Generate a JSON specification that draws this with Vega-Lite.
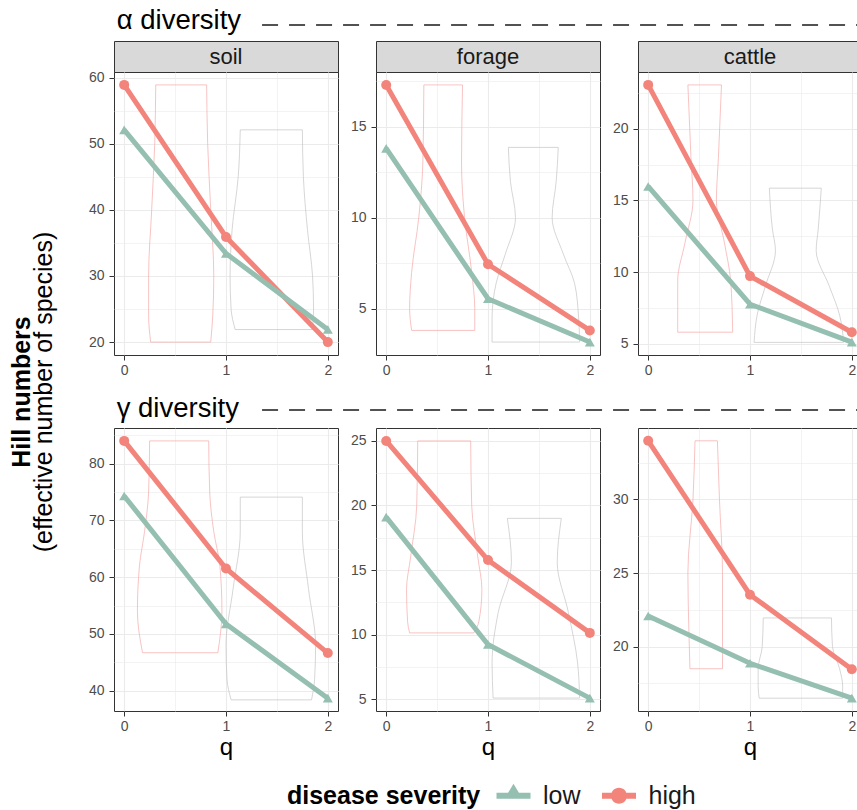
{
  "$schema": "https://vega.github.io/schema/vega-lite/v6.json",
  "padding": 0,
  "config": {
    "font": "Liberation Sans",
    "view": {"stroke": "#333333", "strokeWidth": 1},
    "axis": {"labelFontSize": 14, "labelColor": "#4d4d4d", "labelFont": "Liberation Sans", "tickColor": "#333333", "tickSize": 5, "tickWidth": 1, "domain": false, "gridColor": "#ebebeb", "gridWidth": 1.1, "titleFontSize": 24, "titleFontWeight": "normal", "titleColor": "#000000", "titleFont": "Liberation Sans"},
    "axisX": {"labelPadding": 3, "titlePadding": 2},
    "axisY": {"labelPadding": 5},
    "legend": {"title": "disease severity", "orient": "none", "legendX": 287, "legendY": 783, "direction": "horizontal", "titleOrient": "left", "titleFontSize": 25, "titleFontWeight": "bold", "titleColor": "#000000", "titlePadding": 20, "titleLimit": 400, "labelFontSize": 25, "labelColor": "#1a1a1a", "labelOffset": 17, "columnPadding": 20.5, "symbolSize": 400, "symbolStrokeWidth": 0},
    "text": {"font": "Liberation Sans"}
  },
  "datasets": {
    "pts": [
      {"div": "alpha", "src": "soil", "sev": "high", "q": 0, "val": 58.9},
      {"div": "alpha", "src": "soil", "sev": "high", "q": 1, "val": 35.9},
      {"div": "alpha", "src": "soil", "sev": "high", "q": 2, "val": 20.0},
      {"div": "alpha", "src": "soil", "sev": "low", "q": 0, "val": 52.1},
      {"div": "alpha", "src": "soil", "sev": "low", "q": 1, "val": 33.4},
      {"div": "alpha", "src": "soil", "sev": "low", "q": 2, "val": 21.9},
      {"div": "alpha", "src": "forage", "sev": "high", "q": 0, "val": 17.29},
      {"div": "alpha", "src": "forage", "sev": "high", "q": 1, "val": 7.44},
      {"div": "alpha", "src": "forage", "sev": "high", "q": 2, "val": 3.81},
      {"div": "alpha", "src": "forage", "sev": "low", "q": 0, "val": 13.81},
      {"div": "alpha", "src": "forage", "sev": "low", "q": 1, "val": 5.55},
      {"div": "alpha", "src": "forage", "sev": "low", "q": 2, "val": 3.17},
      {"div": "alpha", "src": "cattle", "sev": "high", "q": 0, "val": 23.05},
      {"div": "alpha", "src": "cattle", "sev": "high", "q": 1, "val": 9.72},
      {"div": "alpha", "src": "cattle", "sev": "high", "q": 2, "val": 5.81},
      {"div": "alpha", "src": "cattle", "sev": "low", "q": 0, "val": 15.97},
      {"div": "alpha", "src": "cattle", "sev": "low", "q": 1, "val": 7.76},
      {"div": "alpha", "src": "cattle", "sev": "low", "q": 2, "val": 5.12},
      {"div": "gamma", "src": "soil", "sev": "high", "q": 0, "val": 84.0},
      {"div": "gamma", "src": "soil", "sev": "high", "q": 1, "val": 61.54},
      {"div": "gamma", "src": "soil", "sev": "high", "q": 2, "val": 46.64},
      {"div": "gamma", "src": "soil", "sev": "low", "q": 0, "val": 74.3},
      {"div": "gamma", "src": "soil", "sev": "low", "q": 1, "val": 51.77},
      {"div": "gamma", "src": "soil", "sev": "low", "q": 2, "val": 38.7},
      {"div": "gamma", "src": "forage", "sev": "high", "q": 0, "val": 25.0},
      {"div": "gamma", "src": "forage", "sev": "high", "q": 1, "val": 15.77},
      {"div": "gamma", "src": "forage", "sev": "high", "q": 2, "val": 10.13},
      {"div": "gamma", "src": "forage", "sev": "low", "q": 0, "val": 19.1},
      {"div": "gamma", "src": "forage", "sev": "low", "q": 1, "val": 9.23},
      {"div": "gamma", "src": "forage", "sev": "low", "q": 2, "val": 5.08},
      {"div": "gamma", "src": "cattle", "sev": "high", "q": 0, "val": 33.98},
      {"div": "gamma", "src": "cattle", "sev": "high", "q": 1, "val": 23.53},
      {"div": "gamma", "src": "cattle", "sev": "high", "q": 2, "val": 18.47},
      {"div": "gamma", "src": "cattle", "sev": "low", "q": 0, "val": 22.08},
      {"div": "gamma", "src": "cattle", "sev": "low", "q": 1, "val": 18.87},
      {"div": "gamma", "src": "cattle", "sev": "low", "q": 2, "val": 16.5}
    ],
    "vio": [
      {"div": "alpha", "src": "soil", "sev": "high", "y": 20.0, "xlo": 0.26, "xhi": 0.85},
      {"div": "alpha", "src": "soil", "sev": "high", "y": 24, "xlo": 0.24, "xhi": 0.87},
      {"div": "alpha", "src": "soil", "sev": "high", "y": 30, "xlo": 0.24, "xhi": 0.88},
      {"div": "alpha", "src": "soil", "sev": "high", "y": 40, "xlo": 0.27, "xhi": 0.85},
      {"div": "alpha", "src": "soil", "sev": "high", "y": 50, "xlo": 0.30, "xhi": 0.82},
      {"div": "alpha", "src": "soil", "sev": "high", "y": 58.9, "xlo": 0.31, "xhi": 0.81},
      {"div": "alpha", "src": "soil", "sev": "low", "y": 21.9, "xlo": 1.09, "xhi": 1.85},
      {"div": "alpha", "src": "soil", "sev": "low", "y": 25, "xlo": 1.05, "xhi": 1.86},
      {"div": "alpha", "src": "soil", "sev": "low", "y": 30, "xlo": 1.04, "xhi": 1.85},
      {"div": "alpha", "src": "soil", "sev": "low", "y": 37, "xlo": 1.06, "xhi": 1.80},
      {"div": "alpha", "src": "soil", "sev": "low", "y": 45, "xlo": 1.12, "xhi": 1.76},
      {"div": "alpha", "src": "soil", "sev": "low", "y": 52.1, "xlo": 1.14, "xhi": 1.75},
      {"div": "alpha", "src": "forage", "sev": "high", "y": 3.81, "xlo": 0.25, "xhi": 0.87},
      {"div": "alpha", "src": "forage", "sev": "high", "y": 5, "xlo": 0.23, "xhi": 0.87},
      {"div": "alpha", "src": "forage", "sev": "high", "y": 7, "xlo": 0.25, "xhi": 0.84},
      {"div": "alpha", "src": "forage", "sev": "high", "y": 10, "xlo": 0.32, "xhi": 0.77},
      {"div": "alpha", "src": "forage", "sev": "high", "y": 13, "xlo": 0.36, "xhi": 0.74},
      {"div": "alpha", "src": "forage", "sev": "high", "y": 17.29, "xlo": 0.37, "xhi": 0.75},
      {"div": "alpha", "src": "forage", "sev": "low", "y": 3.17, "xlo": 1.04, "xhi": 1.90},
      {"div": "alpha", "src": "forage", "sev": "low", "y": 4.5, "xlo": 1.04, "xhi": 1.89},
      {"div": "alpha", "src": "forage", "sev": "low", "y": 6.4, "xlo": 1.08, "xhi": 1.85},
      {"div": "alpha", "src": "forage", "sev": "low", "y": 8, "xlo": 1.17, "xhi": 1.74},
      {"div": "alpha", "src": "forage", "sev": "low", "y": 10, "xlo": 1.27, "xhi": 1.63},
      {"div": "alpha", "src": "forage", "sev": "low", "y": 12, "xlo": 1.22, "xhi": 1.67},
      {"div": "alpha", "src": "forage", "sev": "low", "y": 13.86, "xlo": 1.20, "xhi": 1.69},
      {"div": "alpha", "src": "cattle", "sev": "high", "y": 5.81, "xlo": 0.29, "xhi": 0.83},
      {"div": "alpha", "src": "cattle", "sev": "high", "y": 9.4, "xlo": 0.29, "xhi": 0.81},
      {"div": "alpha", "src": "cattle", "sev": "high", "y": 12, "xlo": 0.36, "xhi": 0.75},
      {"div": "alpha", "src": "cattle", "sev": "high", "y": 15, "xlo": 0.44, "xhi": 0.67},
      {"div": "alpha", "src": "cattle", "sev": "high", "y": 18, "xlo": 0.42, "xhi": 0.69},
      {"div": "alpha", "src": "cattle", "sev": "high", "y": 23.05, "xlo": 0.39, "xhi": 0.72},
      {"div": "alpha", "src": "cattle", "sev": "low", "y": 5.1, "xlo": 1.04, "xhi": 1.92},
      {"div": "alpha", "src": "cattle", "sev": "low", "y": 7, "xlo": 1.07, "xhi": 1.88},
      {"div": "alpha", "src": "cattle", "sev": "low", "y": 9, "xlo": 1.15, "xhi": 1.78},
      {"div": "alpha", "src": "cattle", "sev": "low", "y": 11.5, "xlo": 1.25, "xhi": 1.65},
      {"div": "alpha", "src": "cattle", "sev": "low", "y": 13, "xlo": 1.22, "xhi": 1.67},
      {"div": "alpha", "src": "cattle", "sev": "low", "y": 15.85, "xlo": 1.19, "xhi": 1.70},
      {"div": "gamma", "src": "soil", "sev": "high", "y": 46.7, "xlo": 0.18, "xhi": 0.92},
      {"div": "gamma", "src": "soil", "sev": "high", "y": 54, "xlo": 0.13, "xhi": 0.96},
      {"div": "gamma", "src": "soil", "sev": "high", "y": 62, "xlo": 0.15, "xhi": 0.94},
      {"div": "gamma", "src": "soil", "sev": "high", "y": 68, "xlo": 0.20, "xhi": 0.88},
      {"div": "gamma", "src": "soil", "sev": "high", "y": 75, "xlo": 0.24, "xhi": 0.84},
      {"div": "gamma", "src": "soil", "sev": "high", "y": 84.0, "xlo": 0.25, "xhi": 0.83},
      {"div": "gamma", "src": "soil", "sev": "low", "y": 38.4, "xlo": 1.05, "xhi": 1.84},
      {"div": "gamma", "src": "soil", "sev": "low", "y": 42, "xlo": 1.01, "xhi": 1.87},
      {"div": "gamma", "src": "soil", "sev": "low", "y": 48, "xlo": 1.00, "xhi": 1.88},
      {"div": "gamma", "src": "soil", "sev": "low", "y": 58, "xlo": 1.07, "xhi": 1.81},
      {"div": "gamma", "src": "soil", "sev": "low", "y": 68, "xlo": 1.14, "xhi": 1.75},
      {"div": "gamma", "src": "soil", "sev": "low", "y": 74.1, "xlo": 1.14, "xhi": 1.75},
      {"div": "gamma", "src": "forage", "sev": "high", "y": 10.13, "xlo": 0.23, "xhi": 0.86},
      {"div": "gamma", "src": "forage", "sev": "high", "y": 11, "xlo": 0.21, "xhi": 0.91},
      {"div": "gamma", "src": "forage", "sev": "high", "y": 13.5, "xlo": 0.20, "xhi": 0.94},
      {"div": "gamma", "src": "forage", "sev": "high", "y": 16, "xlo": 0.24, "xhi": 0.90},
      {"div": "gamma", "src": "forage", "sev": "high", "y": 20, "xlo": 0.30, "xhi": 0.84},
      {"div": "gamma", "src": "forage", "sev": "high", "y": 25.0, "xlo": 0.31, "xhi": 0.83},
      {"div": "gamma", "src": "forage", "sev": "low", "y": 5.08, "xlo": 1.05, "xhi": 1.90},
      {"div": "gamma", "src": "forage", "sev": "low", "y": 7.8, "xlo": 1.04, "xhi": 1.88},
      {"div": "gamma", "src": "forage", "sev": "low", "y": 11.7, "xlo": 1.10, "xhi": 1.79},
      {"div": "gamma", "src": "forage", "sev": "low", "y": 15.6, "xlo": 1.23, "xhi": 1.68},
      {"div": "gamma", "src": "forage", "sev": "low", "y": 19.0, "xlo": 1.19, "xhi": 1.72},
      {"div": "gamma", "src": "cattle", "sev": "high", "y": 18.5, "xlo": 0.41, "xhi": 0.73},
      {"div": "gamma", "src": "cattle", "sev": "high", "y": 21, "xlo": 0.40, "xhi": 0.73},
      {"div": "gamma", "src": "cattle", "sev": "high", "y": 25, "xlo": 0.39, "xhi": 0.73},
      {"div": "gamma", "src": "cattle", "sev": "high", "y": 30, "xlo": 0.44, "xhi": 0.70},
      {"div": "gamma", "src": "cattle", "sev": "high", "y": 33.98, "xlo": 0.46, "xhi": 0.68},
      {"div": "gamma", "src": "cattle", "sev": "low", "y": 16.5, "xlo": 1.09, "xhi": 1.91},
      {"div": "gamma", "src": "cattle", "sev": "low", "y": 17.3, "xlo": 1.08, "xhi": 1.91},
      {"div": "gamma", "src": "cattle", "sev": "low", "y": 18.5, "xlo": 1.08, "xhi": 1.88},
      {"div": "gamma", "src": "cattle", "sev": "low", "y": 20, "xlo": 1.12, "xhi": 1.81},
      {"div": "gamma", "src": "cattle", "sev": "low", "y": 21.95, "xlo": 1.13, "xhi": 1.80}
    ]
  },
  "columns": 4,
  "align": "each",
  "bounds": "flush",
  "spacing": {"row": 0, "column": 38},
  "concat": [
    {"width": 76, "height": 41, "view": {"stroke": null}, "data": {"values": []}, "mark": "point"},
    {"width": 224, "height": 41, "view": {"stroke": null},
     "layer": [
       {"data": {"values": [{"div": "α diversity"}]},
        "mark": {"type": "text", "align": "left", "baseline": "alphabetic", "fontSize": 27.5, "color": "#000000"},
        "encoding": {"text": {"field": "div"},
          "x": {"datum": 0.012, "type": "quantitative", "scale": {"domain": [0, 1]}, "axis": null},
          "y": {"datum": 0.2805, "type": "quantitative", "scale": {"domain": [0, 1]}, "axis": null}}},
       {"data": {"values": [{"line": "dashed"}]},
        "mark": {"type": "rule", "strokeDash": [16, 11], "color": "#1a1a1a", "strokeWidth": 1.3, "clip": false},
        "encoding": {
          "x": {"datum": 0.661, "type": "quantitative", "scale": {"domain": [0, 1]}, "axis": null},
          "x2": {"datum": 3.34},
          "y": {"datum": 0.39, "type": "quantitative", "scale": {"domain": [0, 1]}, "axis": null}}}
     ]},
    {"width": 224, "height": 41, "view": {"stroke": null}, "data": {"values": []}, "mark": "point"},
    {"width": 224, "height": 41, "view": {"stroke": null}, "data": {"values": []}, "mark": "point"},

    {"width": 76, "height": 31, "view": {"stroke": null}, "data": {"values": []}, "mark": "point"},
    {"width": 224, "height": 31, "view": {"fill": "#d9d9d9", "stroke": "#333333"},
     "data": {"values": [{"src": "soil"}]},
     "mark": {"type": "text", "fontSize": 22, "color": "#1a1a1a"},
     "encoding": {"text": {"field": "src"}}},
    {"width": 224, "height": 31, "view": {"fill": "#d9d9d9", "stroke": "#333333"},
     "data": {"values": [{"src": "forage"}]},
     "mark": {"type": "text", "fontSize": 22, "color": "#1a1a1a"},
     "encoding": {"text": {"field": "src"}}},
    {"width": 224, "height": 31, "view": {"fill": "#d9d9d9", "stroke": "#333333"},
     "data": {"values": [{"src": "cattle"}]},
     "mark": {"type": "text", "fontSize": 22, "color": "#1a1a1a"},
     "encoding": {"text": {"field": "src"}}},

    {"width": 76, "height": 283, "view": {"stroke": null}, "data": {"values": []}, "mark": "point"},
    {"width": 224, "height": 283,
     "resolve": {"axis": {"x": "independent", "y": "independent"}},
     "layer": [
       {"data": {"name": "vio"}, "transform": [{"filter": "datum.div === 'alpha' && datum.src === 'soil'"}],
        "mark": {"type": "area", "orient": "horizontal", "interpolate": "monotone", "fillOpacity": 0, "strokeWidth": 0.7},
        "encoding": {
          "y": {"field": "y", "type": "quantitative", "scale": {"domain": [18.05, 60.85], "nice": false, "zero": false}, "axis": {"orient": "left", "values": [25, 35, 45, 55], "grid": true, "gridWidth": 0.6, "labels": false, "ticks": false, "domain": false, "title": null}},
          "x": {"field": "xlo", "type": "quantitative", "scale": {"domain": [-0.1, 2.1], "nice": false, "zero": false}, "axis": {"orient": "bottom", "values": [0.5, 1.5], "grid": true, "gridWidth": 0.6, "labels": false, "ticks": false, "domain": false, "title": null}},
          "x2": {"field": "xhi"},
          "detail": {"field": "sev"},
          "stroke": {"condition": {"test": "datum.sev === 'high'", "value": "#F5A9A9"}, "value": "#C4C4C4"}}},
       {"data": {"name": "pts"}, "transform": [{"filter": "datum.div === 'alpha' && datum.src === 'soil'"}],
        "mark": {"type": "line", "strokeWidth": 5},
        "encoding": {
          "x": {"field": "q", "type": "quantitative", "scale": {"domain": [-0.1, 2.1], "nice": false, "zero": false}, "axis": {"orient": "bottom", "values": [0, 1, 2], "grid": true, "title": null}},
          "y": {"field": "val", "type": "quantitative", "scale": {"domain": [18.05, 60.85], "nice": false, "zero": false}, "axis": {"orient": "left", "values": [20, 30, 40, 50, 60], "grid": true, "title": null}},
          "color": {"field": "sev", "type": "nominal", "scale": {"domain": ["low", "high"], "range": ["#95BFB1", "#F3847B"]}, "title": "disease severity"}}},
       {"data": {"name": "pts"}, "transform": [{"filter": "datum.div === 'alpha' && datum.src === 'soil'"}],
        "mark": {"type": "point", "filled": true, "opacity": 1, "size": 100},
        "encoding": {
          "x": {"field": "q", "type": "quantitative", "scale": {"domain": [-0.1, 2.1], "nice": false, "zero": false}, "axis": null},
          "y": {"field": "val", "type": "quantitative", "scale": {"domain": [18.05, 60.85], "nice": false, "zero": false}, "axis": null},
          "color": {"field": "sev", "type": "nominal", "scale": {"domain": ["low", "high"], "range": ["#95BFB1", "#F3847B"]}, "title": "disease severity"},
          "shape": {"condition": {"test": "datum.sev === 'low'", "value": "triangle-up"}, "value": "circle"}}},
       {"data": {"name": "pts"}, "transform": [{"filter": "datum.q < 0"}],
        "mark": {"type": "point", "filled": true, "opacity": 1, "size": 100},
        "encoding": {
          "x": {"field": "q", "type": "quantitative", "scale": {"domain": [-0.1, 2.1], "nice": false, "zero": false}, "axis": null},
          "y": {"field": "val", "type": "quantitative", "scale": {"domain": [18.05, 60.85], "nice": false, "zero": false}, "axis": null},
          "color": {"field": "sev", "type": "nominal", "scale": {"domain": ["low", "high"], "range": ["#95BFB1", "#F3847B"]}, "title": "disease severity"},
          "shape": {"field": "sev", "type": "nominal", "title": "disease severity", "scale": {"domain": ["low", "high"], "range": ["M-1.7,-0.3H1.7V0.3H-1.7Z M0,-1.2L0.9,0.3L-0.9,0.3Z", "M-1.7,-0.3H1.7V0.3H-1.7Z M-0.8,0A0.8,0.8 0 1,1 0.8,0A0.8,0.8 0 1,1 -0.8,0Z"]}}}}
     ]},
    {"width": 224, "height": 283,
     "resolve": {"axis": {"x": "independent", "y": "independent"}},
     "layer": [
       {"data": {"name": "vio"}, "transform": [{"filter": "datum.div === 'alpha' && datum.src === 'forage'"}],
        "mark": {"type": "area", "orient": "horizontal", "interpolate": "monotone", "fillOpacity": 0, "strokeWidth": 0.7},
        "encoding": {
          "y": {"field": "y", "type": "quantitative", "scale": {"domain": [2.46, 18.0], "nice": false, "zero": false}, "axis": {"orient": "left", "values": [7.5, 12.5, 17.5], "grid": true, "gridWidth": 0.6, "labels": false, "ticks": false, "domain": false, "title": null}},
          "x": {"field": "xlo", "type": "quantitative", "scale": {"domain": [-0.1, 2.1], "nice": false, "zero": false}, "axis": {"orient": "bottom", "values": [0.5, 1.5], "grid": true, "gridWidth": 0.6, "labels": false, "ticks": false, "domain": false, "title": null}},
          "x2": {"field": "xhi"},
          "detail": {"field": "sev"},
          "stroke": {"condition": {"test": "datum.sev === 'high'", "value": "#F5A9A9"}, "value": "#C4C4C4"}}},
       {"data": {"name": "pts"}, "transform": [{"filter": "datum.div === 'alpha' && datum.src === 'forage'"}],
        "mark": {"type": "line", "strokeWidth": 5},
        "encoding": {
          "x": {"field": "q", "type": "quantitative", "scale": {"domain": [-0.1, 2.1], "nice": false, "zero": false}, "axis": {"orient": "bottom", "values": [0, 1, 2], "grid": true, "title": null}},
          "y": {"field": "val", "type": "quantitative", "scale": {"domain": [2.46, 18.0], "nice": false, "zero": false}, "axis": {"orient": "left", "values": [5, 10, 15], "grid": true, "title": null}},
          "color": {"field": "sev", "type": "nominal", "scale": {"domain": ["low", "high"], "range": ["#95BFB1", "#F3847B"]}, "title": "disease severity"}}},
       {"data": {"name": "pts"}, "transform": [{"filter": "datum.div === 'alpha' && datum.src === 'forage'"}],
        "mark": {"type": "point", "filled": true, "opacity": 1, "size": 100},
        "encoding": {
          "x": {"field": "q", "type": "quantitative", "scale": {"domain": [-0.1, 2.1], "nice": false, "zero": false}, "axis": null},
          "y": {"field": "val", "type": "quantitative", "scale": {"domain": [2.46, 18.0], "nice": false, "zero": false}, "axis": null},
          "color": {"field": "sev", "type": "nominal", "scale": {"domain": ["low", "high"], "range": ["#95BFB1", "#F3847B"]}, "title": "disease severity"},
          "shape": {"condition": {"test": "datum.sev === 'low'", "value": "triangle-up"}, "value": "circle"}}}
     ]},
    {"width": 224, "height": 283,
     "resolve": {"axis": {"x": "independent", "y": "independent"}},
     "layer": [
       {"data": {"name": "vio"}, "transform": [{"filter": "datum.div === 'alpha' && datum.src === 'cattle'"}],
        "mark": {"type": "area", "orient": "horizontal", "interpolate": "monotone", "fillOpacity": 0, "strokeWidth": 0.7},
        "encoding": {
          "y": {"field": "y", "type": "quantitative", "scale": {"domain": [4.22, 23.95], "nice": false, "zero": false}, "axis": {"orient": "left", "values": [7.5, 12.5, 17.5, 22.5], "grid": true, "gridWidth": 0.6, "labels": false, "ticks": false, "domain": false, "title": null}},
          "x": {"field": "xlo", "type": "quantitative", "scale": {"domain": [-0.1, 2.1], "nice": false, "zero": false}, "axis": {"orient": "bottom", "values": [0.5, 1.5], "grid": true, "gridWidth": 0.6, "labels": false, "ticks": false, "domain": false, "title": null}},
          "x2": {"field": "xhi"},
          "detail": {"field": "sev"},
          "stroke": {"condition": {"test": "datum.sev === 'high'", "value": "#F5A9A9"}, "value": "#C4C4C4"}}},
       {"data": {"name": "pts"}, "transform": [{"filter": "datum.div === 'alpha' && datum.src === 'cattle'"}],
        "mark": {"type": "line", "strokeWidth": 5},
        "encoding": {
          "x": {"field": "q", "type": "quantitative", "scale": {"domain": [-0.1, 2.1], "nice": false, "zero": false}, "axis": {"orient": "bottom", "values": [0, 1, 2], "grid": true, "title": null}},
          "y": {"field": "val", "type": "quantitative", "scale": {"domain": [4.22, 23.95], "nice": false, "zero": false}, "axis": {"orient": "left", "values": [5, 10, 15, 20], "grid": true, "title": null}},
          "color": {"field": "sev", "type": "nominal", "scale": {"domain": ["low", "high"], "range": ["#95BFB1", "#F3847B"]}, "title": "disease severity"}}},
       {"data": {"name": "pts"}, "transform": [{"filter": "datum.div === 'alpha' && datum.src === 'cattle'"}],
        "mark": {"type": "point", "filled": true, "opacity": 1, "size": 100},
        "encoding": {
          "x": {"field": "q", "type": "quantitative", "scale": {"domain": [-0.1, 2.1], "nice": false, "zero": false}, "axis": null},
          "y": {"field": "val", "type": "quantitative", "scale": {"domain": [4.22, 23.95], "nice": false, "zero": false}, "axis": null},
          "color": {"field": "sev", "type": "nominal", "scale": {"domain": ["low", "high"], "range": ["#95BFB1", "#F3847B"]}, "title": "disease severity"},
          "shape": {"condition": {"test": "datum.sev === 'low'", "value": "triangle-up"}, "value": "circle"}}}
     ]},

    {"width": 76, "height": 73, "view": {"stroke": null},
     "layer": [
       {"data": {"values": [{"t": "Hill numbers"}]},
        "mark": {"type": "text", "angle": 270, "fontSize": 25, "fontWeight": "bold", "color": "#000000", "align": "center", "baseline": "middle"},
        "encoding": {"text": {"field": "t"},
          "x": {"datum": 0.29, "type": "quantitative", "scale": {"domain": [0, 1]}, "axis": null},
          "y": {"datum": 0.493, "type": "quantitative", "scale": {"domain": [0, 1]}, "axis": null}}},
       {"data": {"values": [{"t": "(effective number of species)"}]},
        "mark": {"type": "text", "angle": 270, "fontSize": 25, "color": "#000000", "align": "center", "baseline": "middle"},
        "encoding": {"text": {"field": "t"},
          "x": {"datum": 0.585, "type": "quantitative", "scale": {"domain": [0, 1]}, "axis": null},
          "y": {"datum": 0.493, "type": "quantitative", "scale": {"domain": [0, 1]}, "axis": null}}}
     ]},
    {"width": 224, "height": 73, "view": {"stroke": null},
     "layer": [
       {"data": {"values": [{"div": "γ diversity"}]},
        "mark": {"type": "text", "align": "left", "baseline": "alphabetic", "fontSize": 27.5, "color": "#000000"},
        "encoding": {"text": {"field": "div"},
          "x": {"datum": 0.012, "type": "quantitative", "scale": {"domain": [0, 1]}, "axis": null},
          "y": {"datum": 0.155, "type": "quantitative", "scale": {"domain": [0, 1]}, "axis": null}}},
       {"data": {"values": [{"line": "dashed"}]},
        "mark": {"type": "rule", "strokeDash": [16, 11], "color": "#1a1a1a", "strokeWidth": 1.3, "clip": false},
        "encoding": {
          "x": {"datum": 0.661, "type": "quantitative", "scale": {"domain": [0, 1]}, "axis": null},
          "x2": {"datum": 3.34},
          "y": {"datum": 0.2466, "type": "quantitative", "scale": {"domain": [0, 1]}, "axis": null}}}
     ]},
    {"width": 224, "height": 73, "view": {"stroke": null}, "data": {"values": []}, "mark": "point"},
    {"width": 224, "height": 73, "view": {"stroke": null}, "data": {"values": []}, "mark": "point"},

    {"width": 76, "height": 283, "view": {"stroke": null}, "data": {"values": []}, "mark": "point"},
    {"width": 224, "height": 283,
     "resolve": {"axis": {"x": "independent", "y": "independent"}},
     "layer": [
       {"data": {"name": "vio"}, "transform": [{"filter": "datum.div === 'gamma' && datum.src === 'soil'"}],
        "mark": {"type": "area", "orient": "horizontal", "interpolate": "monotone", "fillOpacity": 0, "strokeWidth": 0.7},
        "encoding": {
          "y": {"field": "y", "type": "quantitative", "scale": {"domain": [36.44, 86.27], "nice": false, "zero": false}, "axis": {"orient": "left", "values": [45, 55, 65, 75, 85], "grid": true, "gridWidth": 0.6, "labels": false, "ticks": false, "domain": false, "title": null}},
          "x": {"field": "xlo", "type": "quantitative", "scale": {"domain": [-0.1, 2.1], "nice": false, "zero": false}, "axis": {"orient": "bottom", "values": [0.5, 1.5], "grid": true, "gridWidth": 0.6, "labels": false, "ticks": false, "domain": false, "title": null}},
          "x2": {"field": "xhi"},
          "detail": {"field": "sev"},
          "stroke": {"condition": {"test": "datum.sev === 'high'", "value": "#F5A9A9"}, "value": "#C4C4C4"}}},
       {"data": {"name": "pts"}, "transform": [{"filter": "datum.div === 'gamma' && datum.src === 'soil'"}],
        "mark": {"type": "line", "strokeWidth": 5},
        "encoding": {
          "x": {"field": "q", "type": "quantitative", "scale": {"domain": [-0.1, 2.1], "nice": false, "zero": false}, "axis": {"orient": "bottom", "values": [0, 1, 2], "grid": true, "title": "q"}},
          "y": {"field": "val", "type": "quantitative", "scale": {"domain": [36.44, 86.27], "nice": false, "zero": false}, "axis": {"orient": "left", "values": [40, 50, 60, 70, 80], "grid": true, "title": null}},
          "color": {"field": "sev", "type": "nominal", "scale": {"domain": ["low", "high"], "range": ["#95BFB1", "#F3847B"]}, "title": "disease severity"}}},
       {"data": {"name": "pts"}, "transform": [{"filter": "datum.div === 'gamma' && datum.src === 'soil'"}],
        "mark": {"type": "point", "filled": true, "opacity": 1, "size": 100},
        "encoding": {
          "x": {"field": "q", "type": "quantitative", "scale": {"domain": [-0.1, 2.1], "nice": false, "zero": false}, "axis": null},
          "y": {"field": "val", "type": "quantitative", "scale": {"domain": [36.44, 86.27], "nice": false, "zero": false}, "axis": null},
          "color": {"field": "sev", "type": "nominal", "scale": {"domain": ["low", "high"], "range": ["#95BFB1", "#F3847B"]}, "title": "disease severity"},
          "shape": {"condition": {"test": "datum.sev === 'low'", "value": "triangle-up"}, "value": "circle"}}}
     ]},
    {"width": 224, "height": 283,
     "resolve": {"axis": {"x": "independent", "y": "independent"}},
     "layer": [
       {"data": {"name": "vio"}, "transform": [{"filter": "datum.div === 'gamma' && datum.src === 'forage'"}],
        "mark": {"type": "area", "orient": "horizontal", "interpolate": "monotone", "fillOpacity": 0, "strokeWidth": 0.7},
        "encoding": {
          "y": {"field": "y", "type": "quantitative", "scale": {"domain": [4.08, 26.0], "nice": false, "zero": false}, "axis": {"orient": "left", "values": [7.5, 12.5, 17.5, 22.5], "grid": true, "gridWidth": 0.6, "labels": false, "ticks": false, "domain": false, "title": null}},
          "x": {"field": "xlo", "type": "quantitative", "scale": {"domain": [-0.1, 2.1], "nice": false, "zero": false}, "axis": {"orient": "bottom", "values": [0.5, 1.5], "grid": true, "gridWidth": 0.6, "labels": false, "ticks": false, "domain": false, "title": null}},
          "x2": {"field": "xhi"},
          "detail": {"field": "sev"},
          "stroke": {"condition": {"test": "datum.sev === 'high'", "value": "#F5A9A9"}, "value": "#C4C4C4"}}},
       {"data": {"name": "pts"}, "transform": [{"filter": "datum.div === 'gamma' && datum.src === 'forage'"}],
        "mark": {"type": "line", "strokeWidth": 5},
        "encoding": {
          "x": {"field": "q", "type": "quantitative", "scale": {"domain": [-0.1, 2.1], "nice": false, "zero": false}, "axis": {"orient": "bottom", "values": [0, 1, 2], "grid": true, "title": "q"}},
          "y": {"field": "val", "type": "quantitative", "scale": {"domain": [4.08, 26.0], "nice": false, "zero": false}, "axis": {"orient": "left", "values": [5, 10, 15, 20, 25], "grid": true, "title": null}},
          "color": {"field": "sev", "type": "nominal", "scale": {"domain": ["low", "high"], "range": ["#95BFB1", "#F3847B"]}, "title": "disease severity"}}},
       {"data": {"name": "pts"}, "transform": [{"filter": "datum.div === 'gamma' && datum.src === 'forage'"}],
        "mark": {"type": "point", "filled": true, "opacity": 1, "size": 100},
        "encoding": {
          "x": {"field": "q", "type": "quantitative", "scale": {"domain": [-0.1, 2.1], "nice": false, "zero": false}, "axis": null},
          "y": {"field": "val", "type": "quantitative", "scale": {"domain": [4.08, 26.0], "nice": false, "zero": false}, "axis": null},
          "color": {"field": "sev", "type": "nominal", "scale": {"domain": ["low", "high"], "range": ["#95BFB1", "#F3847B"]}, "title": "disease severity"},
          "shape": {"condition": {"test": "datum.sev === 'low'", "value": "triangle-up"}, "value": "circle"}}}
     ]},
    {"width": 224, "height": 283,
     "resolve": {"axis": {"x": "independent", "y": "independent"}},
     "layer": [
       {"data": {"name": "vio"}, "transform": [{"filter": "datum.div === 'gamma' && datum.src === 'cattle'"}],
        "mark": {"type": "area", "orient": "horizontal", "interpolate": "monotone", "fillOpacity": 0, "strokeWidth": 0.7},
        "encoding": {
          "y": {"field": "y", "type": "quantitative", "scale": {"domain": [15.63, 34.85], "nice": false, "zero": false}, "axis": {"orient": "left", "values": [17.5, 22.5, 27.5, 32.5], "grid": true, "gridWidth": 0.6, "labels": false, "ticks": false, "domain": false, "title": null}},
          "x": {"field": "xlo", "type": "quantitative", "scale": {"domain": [-0.1, 2.1], "nice": false, "zero": false}, "axis": {"orient": "bottom", "values": [0.5, 1.5], "grid": true, "gridWidth": 0.6, "labels": false, "ticks": false, "domain": false, "title": null}},
          "x2": {"field": "xhi"},
          "detail": {"field": "sev"},
          "stroke": {"condition": {"test": "datum.sev === 'high'", "value": "#F5A9A9"}, "value": "#C4C4C4"}}},
       {"data": {"name": "pts"}, "transform": [{"filter": "datum.div === 'gamma' && datum.src === 'cattle'"}],
        "mark": {"type": "line", "strokeWidth": 5},
        "encoding": {
          "x": {"field": "q", "type": "quantitative", "scale": {"domain": [-0.1, 2.1], "nice": false, "zero": false}, "axis": {"orient": "bottom", "values": [0, 1, 2], "grid": true, "title": "q"}},
          "y": {"field": "val", "type": "quantitative", "scale": {"domain": [15.63, 34.85], "nice": false, "zero": false}, "axis": {"orient": "left", "values": [20, 25, 30], "grid": true, "title": null}},
          "color": {"field": "sev", "type": "nominal", "scale": {"domain": ["low", "high"], "range": ["#95BFB1", "#F3847B"]}, "title": "disease severity"}}},
       {"data": {"name": "pts"}, "transform": [{"filter": "datum.div === 'gamma' && datum.src === 'cattle'"}],
        "mark": {"type": "point", "filled": true, "opacity": 1, "size": 100},
        "encoding": {
          "x": {"field": "q", "type": "quantitative", "scale": {"domain": [-0.1, 2.1], "nice": false, "zero": false}, "axis": null},
          "y": {"field": "val", "type": "quantitative", "scale": {"domain": [15.63, 34.85], "nice": false, "zero": false}, "axis": null},
          "color": {"field": "sev", "type": "nominal", "scale": {"domain": ["low", "high"], "range": ["#95BFB1", "#F3847B"]}, "title": "disease severity"},
          "shape": {"condition": {"test": "datum.sev === 'low'", "value": "triangle-up"}, "value": "circle"}}}
     ]},

    {"width": 76, "height": 99, "view": {"stroke": null}, "data": {"values": []}, "mark": "point"},
    {"width": 224, "height": 99, "view": {"stroke": null}, "data": {"values": []}, "mark": "point"},
    {"width": 224, "height": 99, "view": {"stroke": null}, "data": {"values": []}, "mark": "point"},
    {"width": 224, "height": 99, "view": {"stroke": null}, "data": {"values": []}, "mark": "point"}
  ]
}
